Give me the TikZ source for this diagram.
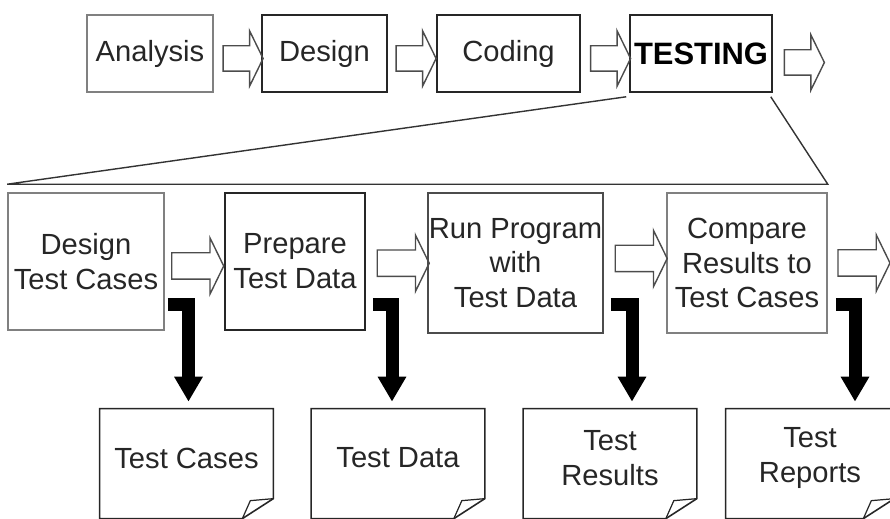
\documentclass[tikz,border=0pt]{standalone}
\usepackage{fontspec}
\setmainfont{Liberation Sans}
\usetikzlibrary{shapes.arrows,arrows.meta,calc}

\begin{document}
\begin{tikzpicture}[x=0.02cm,y=-0.02cm,
  font=\fontsize{16.6}{19.8}\selectfont,
  box/.style={draw=black!85,line width=0.9pt,align=center,inner sep=0pt,text=black!85},
  grey/.style={draw=black!50},
  phase/.style={box,minimum height=1.54cm},
  step2/.style={box,minimum height=2.74cm},
  flow/.style={single arrow,draw=black!70,line width=0.8pt,inner xsep=0pt,inner ysep=0.24cm,
    minimum height=0.8cm,minimum width=1.07cm,single arrow head extend=0.3cm,single arrow tip angle=128},
  flowlong/.style={flow,inner ysep=0.25cm,minimum height=1.04cm,minimum width=1.1cm},
  doc/.style={minimum width=3.46cm,minimum height=1.96cm,align=center,inner sep=0pt,text=black!85},
  product/.style={line width=0.26cm,-{Triangle[length=0.5cm,width=0.54cm]}}]

\useasboundingbox (0,0) rectangle (890,519);

% phases
\node[phase,grey,minimum width=2.52cm] (ana) at (150,53.5) {Analysis};
\node[phase,minimum width=2.5cm] (des) at (324.5,53.5) {Design};
\node[phase,minimum width=2.86cm] (cod) at (508.5,53.5) {Coding};
\node[phase,minimum width=2.84cm,font=\fontsize{17.6}{20}\selectfont\bfseries,text=black] (tst) at (701,53.5) {TESTING};

\node[flow] (f1) at ($(ana.east)!.5!(des.west)+(2.5,5)$) {};
\node[flow] (f2) at ($(des.east)!.5!(cod.west)+(1,5)$) {};
\node[flow] (f3) at ($(cod.east)!.5!(tst.west)+(2.5,5)$) {};
\node[flow] (f4) at ($(tst.east)+(28.5,9)$) {};

% testing steps
\node[step2,grey,minimum width=3.12cm] (dtc) at (86,261.5) {Design\\Test Cases};
\node[step2,minimum width=2.8cm] (ptd) at (295,261.5) {Prepare\\Test Data};
\node[step2,draw=black!70,minimum width=3.5cm,minimum height=2.8cm] (rpt) at (515.5,263) {Run Program\\with\\Test Data};
\node[step2,grey,minimum width=3.2cm,minimum height=2.8cm] (crt) at (747,263) {Compare\\Results to\\Test Cases};

\node[flowlong] (g1) at ($(dtc.east)!.5!(ptd.west)+(0,4.5)$) {};
\node[flowlong] (g2) at ($(ptd.east)!.5!(rpt.west)+(3.5,1)$) {};
\node[flowlong] (g3) at ($(rpt.east)!.5!(crt.west)+(3,-4.5)$) {};
\node[flowlong] (g4) at ($(crt.east)+(33,0)$) {};

\draw[black!80,line width=0.8pt] ($(tst.south west)+(-3,4)$) -- ($(dtc.north west)+(0,-8)$)
  -- ($(crt.north east)+(0,-8)$) -- ($(tst.south east)+(-2,4)$);

% documents
\node[doc] (tc) at (186.5,458) {Test Cases};
\node[doc] (td) at (398,458) {Test Data};
\node[doc] (tr) at (610,458) {Test\\Results};
\node[doc,minimum width=3.36cm] (tp) at (810,458) {Test\\Reports};

\foreach \d in {tc,td,tr,tp}{
  \draw[black!85,line width=0.9pt] (\d.north west) -- (\d.north east) -- ($(\d.north east)+(0,90)$)
    -- ($(\d.north east)+(-31,110)$) -- ($(\d.north west)+(0,110)$) -- cycle;
  \draw[black!85,line width=0.7pt] ($(\d.north east)+(0,90)$) -- ($(\d.north east)+(-23,92)$)
    -- ($(\d.north east)+(-31,110)$);
}

\draw[product] ($(dtc.south east)+(3,-26)$) -| ($(tc.north)+(2,-7)$);
\draw[product] ($(ptd.south east)+(7,-26)$) -| ($(td.north)+(-6,-7)$);
\draw[product] ($(rpt.south east)+(7,-29)$) -| ($(tr.north)+(22,-7)$);
\draw[product] ($(crt.south east)+(8,-29)$) -| ($(tp.north)+(45,-7)$);
\end{tikzpicture}
\end{document}
